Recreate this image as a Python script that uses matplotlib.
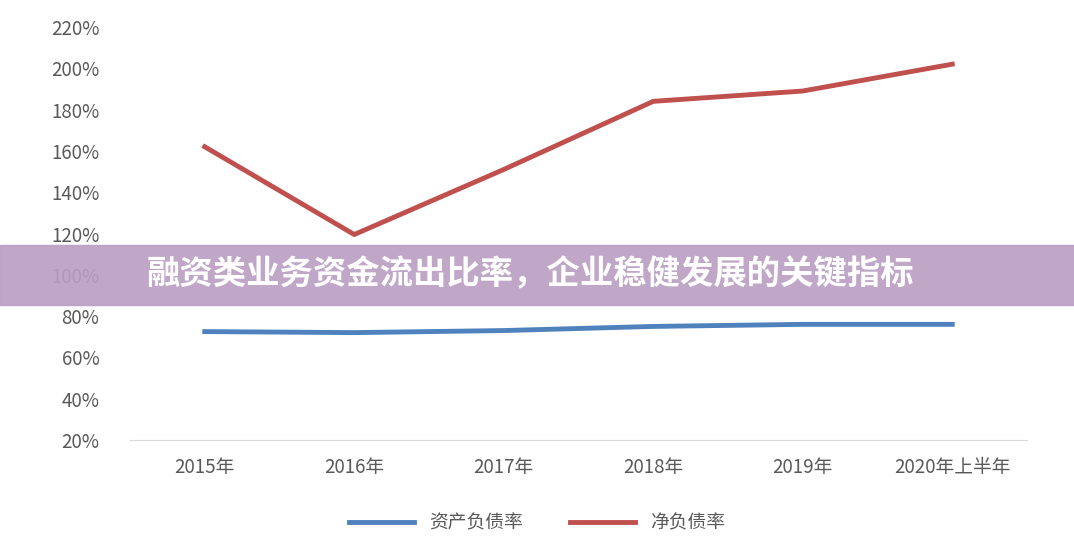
import matplotlib
matplotlib.use("Agg")
import matplotlib.pyplot as plt

plt.rcParams['font.family'] = ['Noto Sans CJK SC', 'DejaVu Sans']

categories = ["2015年", "2016年", "2017年", "2018年", "2019年", "2020年上半年"]
asset_liability = [72.5, 72, 73, 75, 76, 76]
net_liability = [162, 119.5, 151, 184, 189, 202]
yticks = list(range(20, 221, 20))

fig = plt.figure(figsize=(10.74, 5.5), dpi=100)
ax = fig.add_axes([130/1074, 110/550, 897/1074, 413/550])
x = range(len(categories))
ax.plot(x, asset_liability, color="#4f81bd", lw=3.5, label="资产负债率")
ax.plot(x, net_liability, color="#c0504d", lw=3.5, label="净负债率")
ax.set_xlim(-0.5, len(categories) - 0.5)
ax.set_ylim(20, 220)
ax.set_yticks(yticks)
ax.set_yticklabels([f"{v}%" for v in yticks], fontsize=13.5, color="#595959")
ax.set_xticks(list(x))
ax.set_xticklabels(categories, fontsize=13.5, color="#595959")
for s in ["top", "right", "left"]:
    ax.spines[s].set_visible(False)
ax.spines["bottom"].set_color("#d9d9d9")
ax.tick_params(length=0, pad=12)
ax.tick_params(axis='y', pad=22)
fig.legend(loc="center", bbox_to_anchor=(0.5, 27/550), ncol=2, frameon=False,
           fontsize=13.5, handlelength=3.5, columnspacing=2.5, labelcolor="#595959")

fig.patches.append(plt.Rectangle((0, 245/550), 1, 60/550, transform=fig.transFigure,
                                 color=(0.73, 0.62, 0.76), alpha=0.9, zorder=5))
fig.text(147/1074, 275/550, "融资类业务资金流出比率，企业稳健发展的关键指标", color="white",
         fontsize=24, fontweight="bold", va="center", ha="left", zorder=6)

fig.savefig("out.png", dpi=100)
